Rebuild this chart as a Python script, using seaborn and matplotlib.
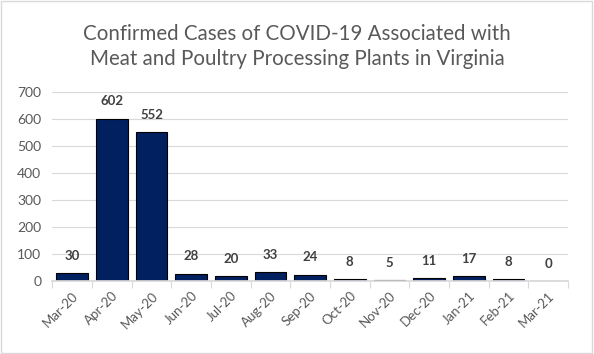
import matplotlib
matplotlib.use("Agg")
import matplotlib.pyplot as plt
import numpy as np
import pandas as pd
import seaborn as sns
from matplotlib.patches import Rectangle

months = ["Mar-20", "Apr-20", "May-20", "Jun-20", "Jul-20", "Aug-20", "Sep-20",
          "Oct-20", "Nov-20", "Dec-20", "Jan-21", "Feb-21", "Mar-21"]
cases = [30, 602, 552, 28, 20, 33, 24, 8, 5, 11, 17, 8, 0]

TITLE = "Confirmed Cases of COVID-19 Associated with\nMeat and Poultry Processing Plants in Virginia"

sns.set_theme(style="whitegrid")
plt.rcParams["font.family"] = ["Lato", "DejaVu Sans"]

df = pd.DataFrame({"month": months, "cases": cases})

fig = plt.figure(figsize=(5.94, 3.54), dpi=100)
ax = fig.add_axes([0.088, 0.206, 0.868, 0.534])
sns.barplot(data=df, x="month", y="cases", color="#002060", saturation=1,
            width=0.8, edgecolor="black", linewidth=0.8, ax=ax)

for i, v in enumerate(cases):
    ax.annotate(str(v), (i, v), xytext=(0, 8), textcoords="offset points",
                ha="center", va="bottom", fontsize=9.5, fontweight="bold", color="#404040")

ax.set_ylim(0, 700)
ax.set_yticks(range(0, 701, 100))
ax.set_xlim(-0.5, len(months) - 0.5)
ax.set_xticks(np.arange(-0.5, len(months), 1.0), minor=True)
ax.set_xlabel("")
ax.set_ylabel("")
ax.grid(axis="y", color="#d9d9d9", linewidth=0.8)
ax.grid(axis="x", visible=False, which="both")
for side in ["top", "right", "left"]:
    ax.spines[side].set_visible(False)
ax.spines["bottom"].set_color("#d9d9d9")
ax.tick_params(axis="y", length=0, labelsize=10, labelcolor="#595959", pad=8)
ax.tick_params(axis="x", which="major", length=0, labelsize=9.5, labelcolor="#595959", pad=6)
ax.tick_params(axis="x", which="minor", bottom=True, length=5, width=0.8,
               color="#d9d9d9", direction="out")
plt.setp(ax.get_xticklabels(), rotation=45, ha="right", rotation_mode="anchor")
ax.set_axisbelow(True)

fig.text(0.5, 0.868, TITLE, ha="center", va="center", fontsize=14.8,
         color="#595959", linespacing=1.3)
fig.patches.append(Rectangle((0.002, 0.003), 0.995, 0.993, transform=fig.transFigure,
                             fill=False, edgecolor="#d9d9d9", linewidth=1))

fig.savefig("out.png", dpi=100)
